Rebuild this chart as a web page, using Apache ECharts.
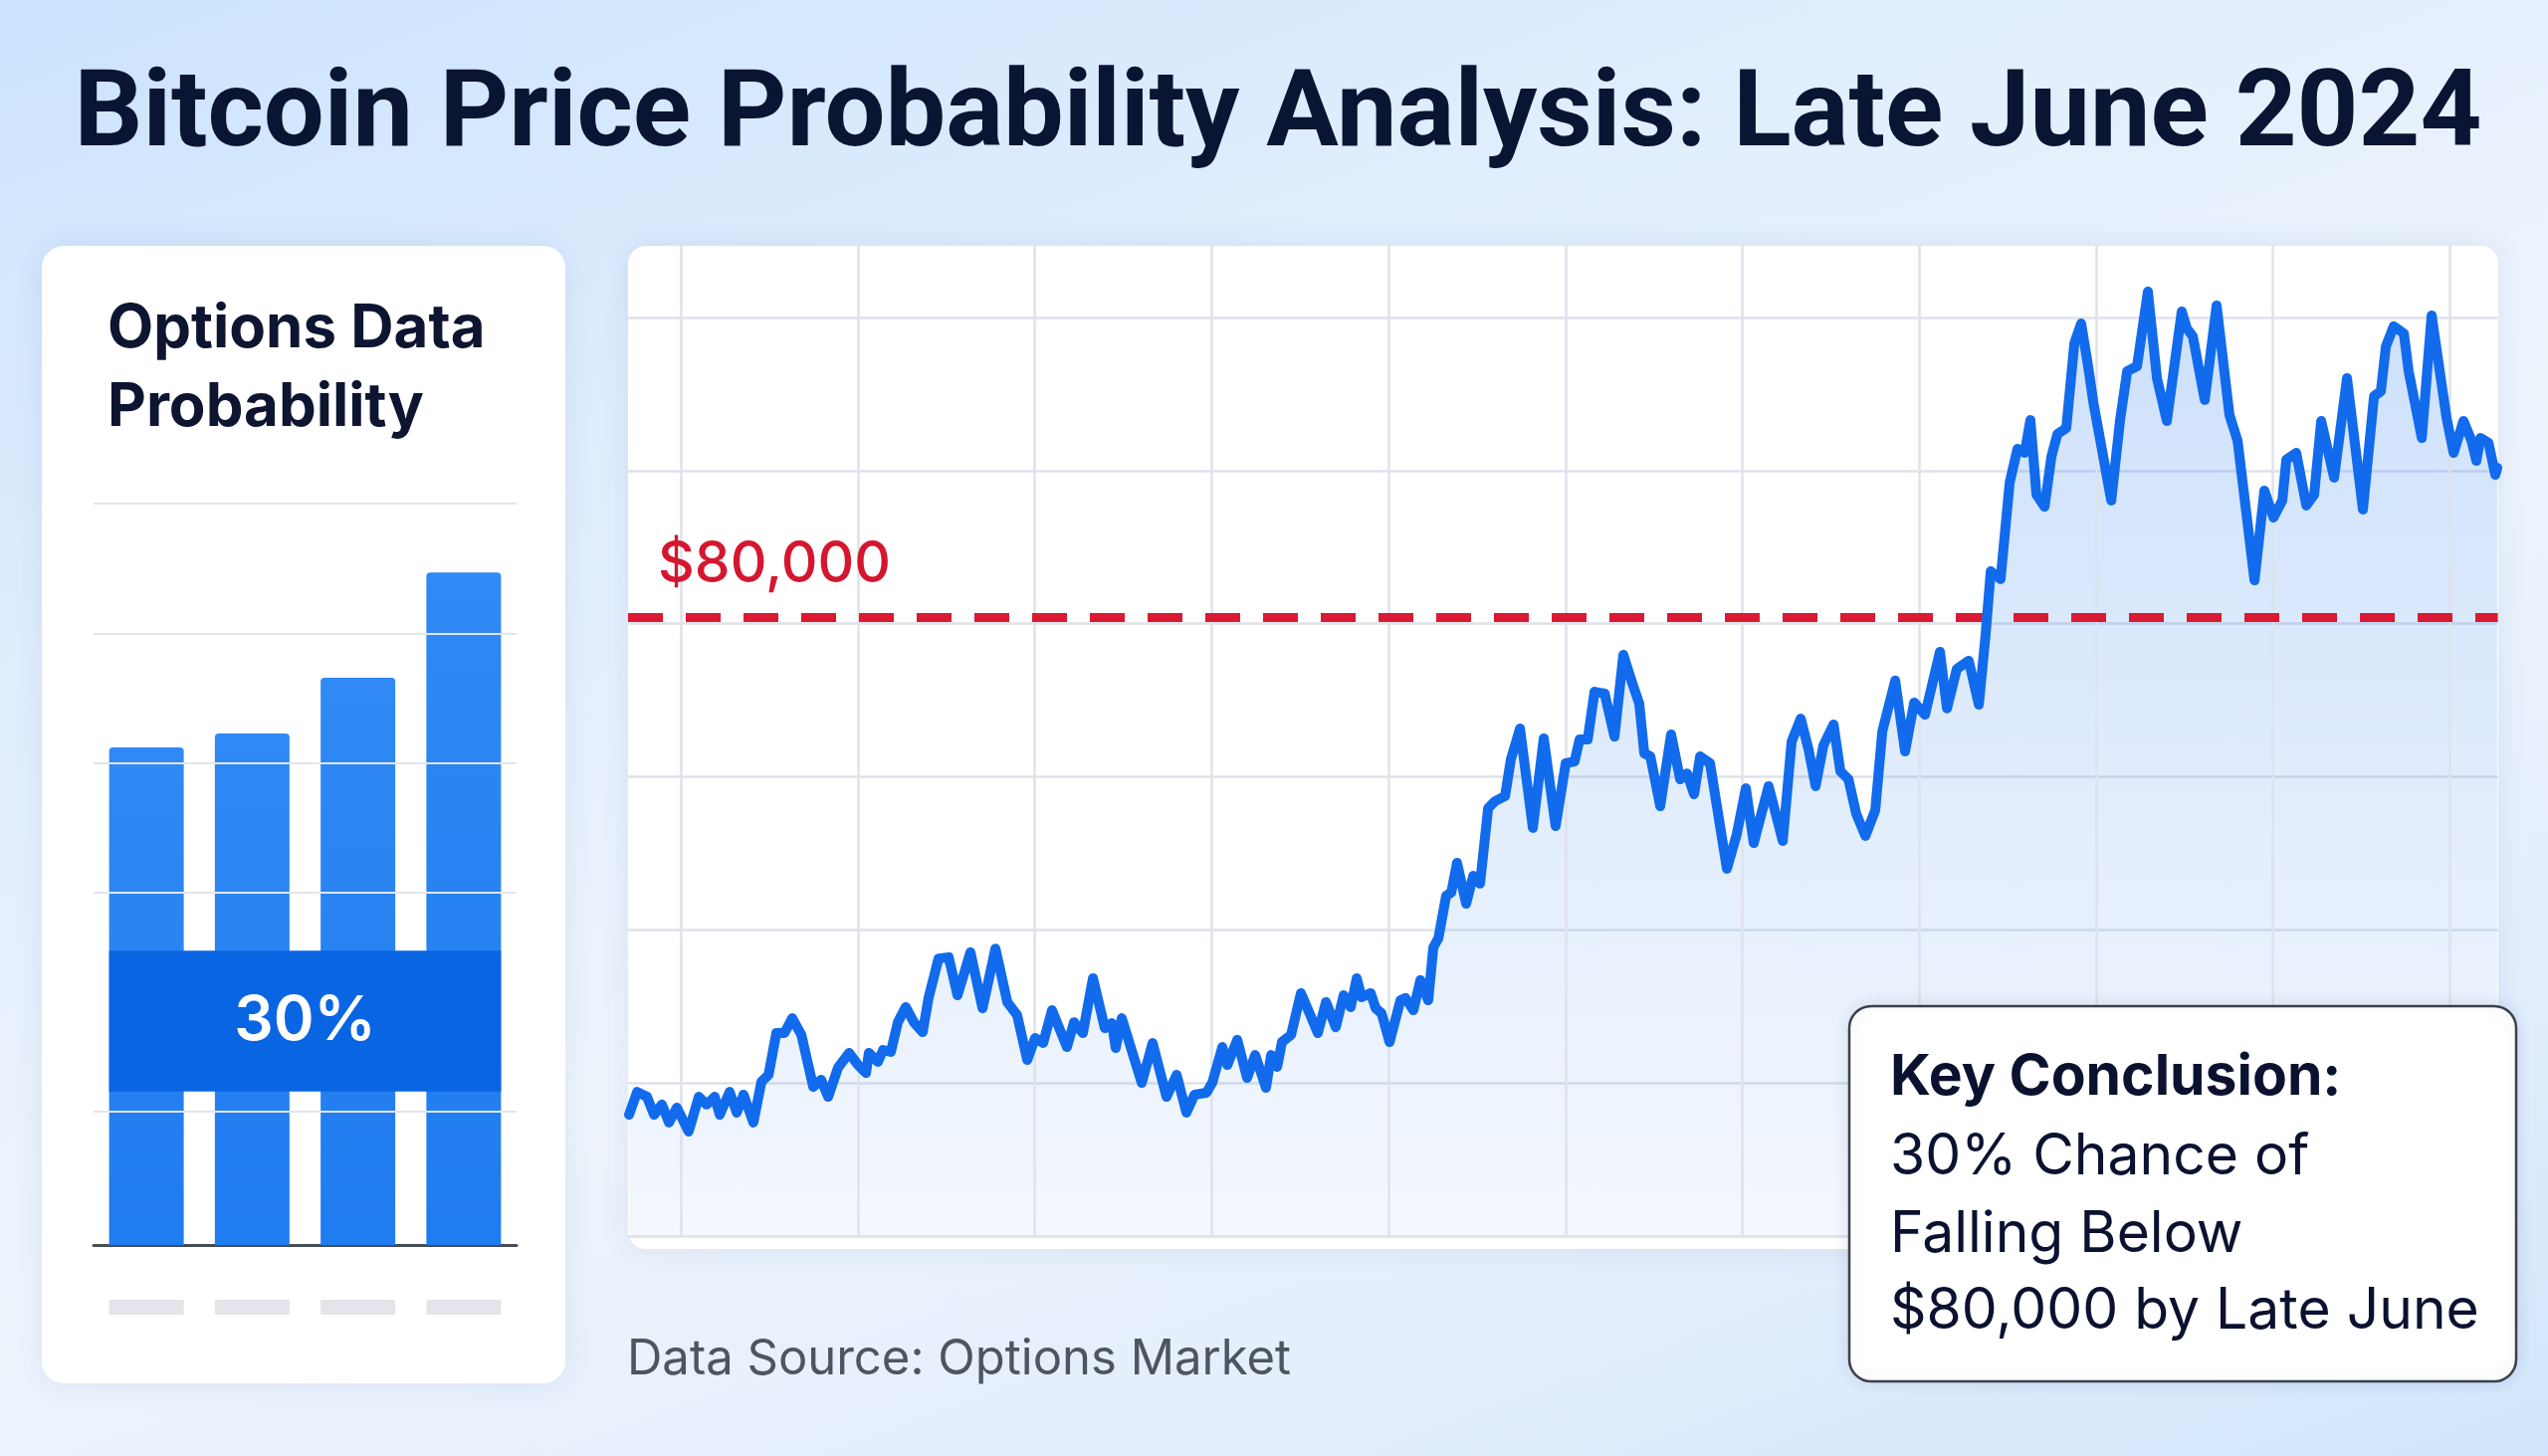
<!DOCTYPE html>
<html lang="en" style="height: 100%">
<head>
  <meta charset="utf-8">
  <style>
    html, body { height: 100%; margin: 0; }
    body {
      background: linear-gradient(160deg, #cce3fd 0%, #e1eefd 30%, #eef4fc 55%, #e3eefc 80%, #d0e5fb 100%);
    }
    #chart { width: 100%; height: 100%; }
  </style>
</head>
<body>
  <div id="chart"></div>
  <script src="https://cdn.jsdelivr.net/npm/echarts@6.0.0/dist/echarts.min.js"></script>
  <script>
    // price path (x = day offset, y = USD)
    const priceDays = [
      -0.06, 0.26, 0.65, 0.93, 1.24, 1.52, 1.83, 2.30, 2.70, 3.01,
      3.33, 3.53, 3.92, 4.20, 4.47, 4.86, 5.18, 5.46, 5.77, 6.09,
      6.40, 6.76, 7.23, 7.54, 7.82, 8.21, 8.65, 9.00, 9.32, 9.43,
      9.79, 9.99, 10.30, 10.58, 10.89, 11.21, 11.56, 11.80,
      12.19, 12.59, 12.94, 13.45, 13.93, 14.44, 14.91, 15.30, 15.70, 16.01,
      16.33, 16.68, 17.27, 17.55, 17.90, 18.30, 18.77, 19.05, 19.20, 19.44,
      20.23, 20.66, 21.21, 21.61, 22.00, 22.32, 22.79, 23.02, 23.42,
      23.62, 24.01, 24.40, 24.72, 25.15, 25.35, 25.59, 25.78, 26.14, 26.53,
      26.85, 27.20, 27.52, 27.91, 28.22, 28.50, 28.74, 28.93, 29.29, 29.49,
      29.72, 30.04, 30.47, 30.67, 30.98, 31.26, 31.57, 31.77, 31.97, 32.28,
      32.48, 32.71, 33.07, 33.35, 33.62, 33.94, 34.21, 34.61, 34.84, 35.20,
      35.71, 36.14, 36.61, 37.01, 37.36, 37.56, 37.88, 38.15, 38.55, 38.94,
      39.29, 39.65, 39.92, 40.12, 40.36, 40.75, 41.18, 41.54, 41.81, 42.09,
      42.33, 42.72, 43.39, 43.78, 44.14, 44.45, 45.04, 45.60, 45.95, 46.31,
      46.62, 46.90, 47.21, 47.61,
      47.88, 48.20, 48.51, 48.87, 49.26, 49.54, 50.05, 50.44, 50.80, 51.23,
      51.82, 52.10, 52.49, 52.96, 53.36, 53.63, 53.83, 54.22, 54.58, 54.89,
      55.17, 55.40, 55.64, 55.96, 56.23, 56.47, 56.82, 57.14, 57.41, 57.69,
      57.89, 58.60, 58.95,
      59.23, 59.62, 60.05, 60.41, 60.80, 61.39, 61.59, 61.83, 62.30, 62.77,
      63.28, 63.60, 64.27, 64.66, 65.02, 65.37, 65.53, 65.92, 66.32, 66.63,
      66.91, 67.42, 67.93, 68.56, 69.00, 69.27, 69.47, 69.78, 70.18, 70.37,
      70.89, 71.28, 71.87, 72.15, 72.54, 72.86, 73.05, 73.21, 73.53, 73.80, 73.88
    ];
    const priceValues = [
      63920, 64660, 64500, 63920, 64250, 63670, 64150, 63380, 64500, 64250,
      64500, 63920, 64660, 63990, 64570, 63670, 64990, 65210, 66560, 66560,
      67040, 66500, 64820, 65050, 64500, 65440, 65920, 65530, 65270, 65920,
      65630, 66010, 65950, 66910, 67400, 66910, 66590, 67720,
      68970, 69010, 67780, 69170, 67360, 69290, 67560, 67140, 65690, 66400,
      66240, 67300, 66110, 66910, 66560, 68330, 66720, 66880, 66080, 67040,
      64950, 66240, 64500, 65210, 63990, 64570, 64630, 64950, 66110,
      65530, 66340, 65110, 65850, 64790, 65850, 65470, 66270, 66500, 67850,
      67240, 66560, 67560, 66750, 67780, 67400, 68330, 67720, 67850, 67360,
      67200, 66270, 67620, 67690, 67300, 68270, 67620, 69330, 69620, 71000,
      71100, 72060, 70740, 71640, 71390, 73830, 74050, 74220, 75410, 76400,
      73190, 76080, 73250, 75280, 75340, 76050, 76050, 77590, 77530, 76140,
      78780, 77850, 77210, 75600, 75500, 73890, 76210, 74760, 74950, 74280,
      75500, 75280, 71870, 72990, 74470, 72700, 74540, 72770, 75980, 76720,
      75730, 74540, 75860, 76530,
      75020, 74760, 73640, 72930, 73760, 76310, 77950, 75660, 77240, 76850,
      78880, 77050, 78330, 78590, 77170, 79460, 81480, 81230, 84350, 85440,
      85310, 86370, 83960, 83570, 85180, 85920, 86110, 88850, 89490, 88080,
      86950, 83770, 86370,
      87950, 88110, 90520, 87720, 86340, 89880, 89330, 89070, 87020, 90070,
      86530, 85700, 81190, 84090, 83220, 83770, 85090, 85310, 83610, 83960,
      86340, 84510, 87720, 83480, 87140, 87300, 88750, 89400, 89170, 87950,
      85790, 89750, 86440, 85310, 86340, 85700, 85050, 85790, 85630, 84600, 84830
    ];
    const weekTicks = [2, 9, 16, 23, 30, 37, 44, 51, 58, 65, 72];
    const thresholdPrice = 80000;
    const thresholdLabel = '$80,000';

    // options probability panel
    const probCategories = ['Bucket A', 'Bucket B', 'Bucket C', 'Bucket D'];
    const probValues = [67.1, 69.0, 76.5, 90.7];
    const probGridTicks = [18, 47.5, 65, 82.5, 100];
    const highlightRange = [20.7, 39.7];
    const highlightLabel = '30%';

    const titleText = 'Bitcoin Price Probability Analysis: Late June 2024';
    const panelTitle = ['Options Data', 'Probability'];
    const conclusionTitle = 'Key Conclusion:';
    const conclusionLines = ['30% Chance of', 'Falling Below', '$80,000 by Late June'];
    const sourceText = 'Data Source: Options Market';

    const FONT = 'Inter, "Noto Sans", sans-serif';
    const BAR_W = 75;
    const pricePoints = priceDays.map((d, i) => [d, priceValues[i]]);

    var chart = echarts.init(document.getElementById('chart'), null, { renderer: 'canvas' });

    var option = {
      animation: false,
      backgroundColor: 'transparent',
      grid: [
        { left: 631, top: 247, width: 1878.6, height: 995 },
        { left: 94, top: 506, width: 425, height: 745 }
      ],
      xAxis: [
        { type: 'value', gridIndex: 0, min: -0.1, max: 73.9, show: false },
        {
          type: 'category', gridIndex: 1, data: probCategories,
          axisLine: { lineStyle: { color: '#474c56', width: 3 } },
          axisTick: { show: false },
          axisLabel: {
            margin: 55,
            formatter: () => '{blk|\u00a0}',
            rich: { blk: { width: BAR_W, height: 15, backgroundColor: '#e3e5ea', color: 'transparent' } }
          }
        }
      ],
      yAxis: [
        {
          // row lines of the price grid
          type: 'value', gridIndex: 0, min: 0, max: 6.468, interval: 1,
          axisLine: { show: false }, axisTick: { show: false }, axisLabel: { show: false },
          splitLine: { show: true, showMaxLine: false, lineStyle: { color: '#dfe2ea', width: 2.5 } }
        },
        { type: 'value', gridIndex: 0, min: 60000, max: 92000, show: false },
        { type: 'value', gridIndex: 1, min: 0, max: 100, show: false }
      ],
      series: [
        {
          name: 'guides', type: 'line', xAxisIndex: 0, yAxisIndex: 1, data: [], z: 1, silent: true,
          markLine: {
            silent: true, symbol: ['none', 'none'], animation: false,
            label: { show: false },
            lineStyle: { color: '#dfe2ea', width: 2.5, type: 'solid' },
            data: weekTicks.map(d => ({ xAxis: d }))
          }
        },
        {
          name: 'area', type: 'line', xAxisIndex: 0, yAxisIndex: 1, data: pricePoints,
          symbol: 'none', silent: true, z: 2,
          lineStyle: { width: 0 },
          areaStyle: {
            color: new echarts.graphic.LinearGradient(0, 0, 0, 1, [
              { offset: 0, color: 'rgba(45,125,238,0.34)' },
              { offset: 1, color: 'rgba(45,125,238,0.08)' }
            ])
          }
        },
        {
          name: 'threshold', type: 'line', xAxisIndex: 0, yAxisIndex: 1, data: [], z: 4, silent: true,
          markLine: {
            silent: true, symbol: ['none', 'none'], animation: false,
            data: [{
              yAxis: thresholdPrice,
              lineStyle: { color: '#d91a32', width: 9, type: [35, 23] },
              label: {
                show: true, position: 'insideStartTop', formatter: thresholdLabel,
                color: '#d4172f', fontSize: 57, fontFamily: FONT, fontWeight: 500,
                distance: [30, 24]
              }
            }]
          }
        },
        {
          name: 'BTC price', type: 'line', xAxisIndex: 0, yAxisIndex: 1, data: pricePoints,
          symbol: 'none', silent: true, z: 6,
          lineStyle: { color: '#116bec', width: 10, join: 'round', cap: 'round' }
        },
        {
          name: 'probGrid', type: 'bar', xAxisIndex: 1, yAxisIndex: 2, data: [], z: 1, silent: true,
          markLine: {
            silent: true, symbol: ['none', 'none'], animation: false,
            label: { show: false },
            lineStyle: { color: '#e2e5eb', width: 2, type: 'solid' },
            data: probGridTicks.map(v => ({ yAxis: v }))
          }
        },
        {
          name: 'probability', type: 'bar', xAxisIndex: 1, yAxisIndex: 2, data: probValues,
          barWidth: BAR_W, barGap: '-100%', z: 3, silent: true,
          itemStyle: {
            borderRadius: [4, 4, 0, 0],
            color: new echarts.graphic.LinearGradient(0, 0, 0, 1, [
              { offset: 0, color: '#3089f4' },
              { offset: 1, color: '#1f7cf0' }
            ])
          }
        },
        {
          name: 'highlight', type: 'custom', xAxisIndex: 1, yAxisIndex: 2, z: 5, silent: true,
          data: [[0, highlightRange[0], highlightRange[1]]],
          encode: { x: 0, y: [1, 2] },
          renderItem: function (params, api) {
            var top = api.coord([0, api.value(2)]);
            var bot = api.coord([probCategories.length - 1, api.value(1)]);
            var x0 = top[0] - BAR_W / 2;
            var x1 = bot[0] + BAR_W / 2;
            return {
              type: 'group',
              children: [
                {
                  type: 'rect',
                  shape: { x: x0, y: top[1], width: x1 - x0, height: bot[1] - top[1] },
                  style: { fill: '#0a65e2' }
                },
                {
                  type: 'text',
                  style: {
                    text: highlightLabel, x: (x0 + x1) / 2, y: (top[1] + bot[1]) / 2,
                    align: 'center', verticalAlign: 'middle',
                    fill: '#ffffff', fontSize: 62, fontWeight: 600, fontFamily: FONT
                  }
                }
              ]
            };
          }
        }
      ],
      graphic: [
        {
          type: 'rect', x: 42, y: 247, z: -10, silent: true,
          shape: { width: 526, height: 1143, r: 22 },
          style: { fill: '#ffffff', shadowBlur: 30, shadowColor: 'rgba(40,90,160,0.10)' }
        },
        {
          type: 'rect', x: 631, y: 247, z: -10, silent: true,
          shape: { width: 1879, height: 1008, r: 18 },
          style: { fill: '#ffffff', shadowBlur: 30, shadowColor: 'rgba(40,90,160,0.10)' }
        },
        {
          type: 'text', x: 1284, y: 119, z: 50, silent: true,
          style: {
            text: titleText, align: 'center', verticalAlign: 'middle',
            fill: '#0a1433', fontSize: 108, fontWeight: 700, fontFamily: 'Roboto, Inter, sans-serif'
          }
        },
        {
          type: 'text', x: 108, y: 331, z: 50, silent: true,
          style: { text: panelTitle[0], verticalAlign: 'middle', fill: '#0d1530', fontSize: 60, fontWeight: 700, fontFamily: FONT }
        },
        {
          type: 'text', x: 108, y: 410, z: 50, silent: true,
          style: { text: panelTitle[1], verticalAlign: 'middle', fill: '#0d1530', fontSize: 60, fontWeight: 700, fontFamily: FONT }
        },
        {
          type: 'text', x: 630, y: 1366, z: 50, silent: true,
          style: { text: sourceText, verticalAlign: 'middle', fill: '#4e5562', fontSize: 49, fontFamily: FONT }
        },
        {
          type: 'rect', x: 1858, y: 1011, z: 60, silent: true,
          shape: { width: 670, height: 377, r: 22 },
          style: { fill: '#ffffff', stroke: '#3b404b', lineWidth: 2.5, shadowBlur: 16, shadowColor: 'rgba(30,60,120,0.12)' }
        },
        {
          type: 'text', x: 1899, y: 1083, z: 61, silent: true,
          style: { text: conclusionTitle, verticalAlign: 'middle', fill: '#0b1230', fontSize: 57, fontWeight: 700, fontFamily: FONT }
        },
        {
          type: 'text', x: 1899, y: 1163, z: 61, silent: true,
          style: { text: conclusionLines[0], verticalAlign: 'middle', fill: '#0b1230', fontSize: 57, fontFamily: FONT }
        },
        {
          type: 'text', x: 1899, y: 1241, z: 61, silent: true,
          style: { text: conclusionLines[1], verticalAlign: 'middle', fill: '#0b1230', fontSize: 57, fontFamily: FONT }
        },
        {
          type: 'text', x: 1899, y: 1318, z: 61, silent: true,
          style: { text: conclusionLines[2], verticalAlign: 'middle', fill: '#0b1230', fontSize: 57, fontFamily: FONT }
        }
      ]
    };

    chart.setOption(option);
    window.addEventListener('resize', chart.resize);
  </script>
</body>
</html>
